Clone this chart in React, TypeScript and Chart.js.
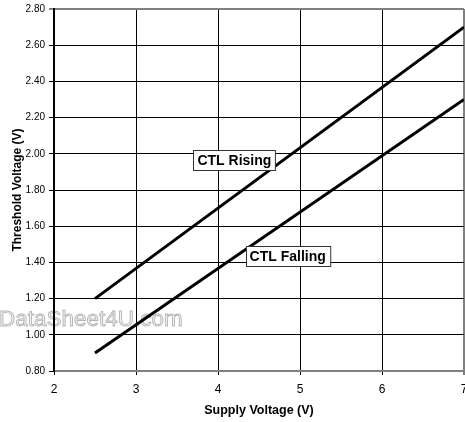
import React, { useEffect, useRef } from "react";
import { Chart, registerables } from "chart.js";

Chart.register(...registerables);

const supplyVoltage = [2.5, 7];
const ctlRising = [1.2, 2.7];
const ctlFalling = [0.9, 2.3];

const labelTexts = ["CTL Rising", "CTL Falling"];
const labelX = [4.2, 4.85];
const labelY = [1.966, 1.433];

const FONT = "'Liberation Sans', Arial, sans-serif";

const annotationPlugin = {
  id: "annot",
  beforeDraw(chart: any) {
    const ctx = chart.ctx;
    ctx.save();
    ctx.font = `22.5px ${FONT}`;
    ctx.textBaseline = "alphabetic";
    ctx.textAlign = "left";
    ctx.fillStyle = "#f4f4f4";
    ctx.fillText("DataSheet4U.com", -1, 326);
    ctx.strokeStyle = "#b4b4b4";
    ctx.lineWidth = 0.9;
    ctx.strokeText("DataSheet4U.com", -1, 326);
    ctx.restore();
  },
  afterDatasetsDraw(chart: any) {
    const ctx = chart.ctx;
    const xs = chart.scales.x;
    const ys = chart.scales.y;
    ctx.save();
    ctx.font = `bold 14px ${FONT}`;
    ctx.textAlign = "center";
    ctx.textBaseline = "middle";
    labelTexts.forEach((t, i) => {
      const px = xs.getPixelForValue(labelX[i]);
      const py = ys.getPixelForValue(labelY[i]);
      const w = ctx.measureText(t).width + 8;
      const h = 20;
      const l = Math.round(px - w / 2) + 0.5;
      const top = Math.round(py - h / 2) + 0.5;
      ctx.fillStyle = "#ffffff";
      ctx.fillRect(l, top, w, h);
      ctx.strokeStyle = "#333333";
      ctx.lineWidth = 1;
      ctx.strokeRect(l, top, w, h);
      ctx.fillStyle = "#000000";
      ctx.fillText(t, px, py + 1);
    });
    ctx.restore();
  },
};

export default function App() {
  const ref = useRef<HTMLCanvasElement | null>(null);
  useEffect(() => {
    document.body.style.margin = "0";
    const canvas = ref.current!;
    const chart = new Chart(canvas, {
      type: "line",
      data: {
        datasets: [
          {
            label: "CTL Rising",
            data: supplyVoltage.map((x, i) => ({ x, y: ctlRising[i] })),
            borderColor: "#000000",
            borderWidth: 3,
            pointRadius: 0,
            tension: 0,
          },
          {
            label: "CTL Falling",
            data: supplyVoltage.map((x, i) => ({ x, y: ctlFalling[i] })),
            borderColor: "#000000",
            borderWidth: 3,
            pointRadius: 0,
            tension: 0,
          },
        ],
      },
      options: {
        responsive: false,
        animation: false,
        layout: { padding: { top: 9, right: 1, left: 0, bottom: 0 } },
        plugins: {
          legend: { display: false },
          tooltip: { enabled: false },
        },
        scales: {
          x: {
            type: "linear",
            min: 2,
            max: 7,
            ticks: {
              stepSize: 1,
              color: "#000000",
              padding: 7,
              font: { family: FONT, size: 12, lineHeight: 1.2 },
              maxRotation: 0,
            },
            grid: {
              color: (c: any) => (c.tick && c.tick.value === 7 ? "#808080" : "#000000"),
              lineWidth: (c: any) => (c.tick && c.tick.value === 7 ? 2 : 1),
              tickColor: "#000000",
              tickWidth: 1,
              tickLength: 4,
            },
            border: { color: "#808080", width: 2 },
            title: {
              display: true,
              text: "Supply Voltage (V)",
              color: "#000000",
              font: { family: FONT, size: 12.5, weight: "bold", lineHeight: 1.2 },
              padding: { top: 0, bottom: 4 },
            },
            afterFit: (s: any) => {
              s.height = 51;
              s.paddingLeft = 0;
              s.paddingRight = 0;
            },
          },
          y: {
            type: "linear",
            min: 0.8,
            max: 2.8,
            ticks: {
              stepSize: 0.2,
              color: "#000000",
              padding: 4,
              font: { family: FONT, size: 10 },
              callback: (v: any) => Number(v).toFixed(2),
            },
            grid: {
              color: (c: any) =>
                c.tick && Math.abs(c.tick.value - 2.8) < 1e-6 ? "#808080" : "#000000",
              lineWidth: (c: any) =>
                c.tick && Math.abs(c.tick.value - 2.8) < 1e-6 ? 2 : 1,
              tickColor: "#000000",
              tickWidth: 1,
              tickLength: 5,
            },
            border: { color: "#000000", width: 2 },
            title: {
              display: true,
              text: "Threshold Voltage (V)",
              color: "#000000",
              font: { family: FONT, size: 12, weight: "bold", lineHeight: 1.2 },
              padding: { top: 10, bottom: 0 },
            },
            afterFit: (s: any) => {
              s.width = 54;
              s.paddingTop = 0;
              s.paddingBottom = 0;
            },
          },
        },
      } as any,
      plugins: [annotationPlugin],
    });
    return () => chart.destroy();
  }, []);
  return <canvas ref={ref} width={465} height={422} />;
}
